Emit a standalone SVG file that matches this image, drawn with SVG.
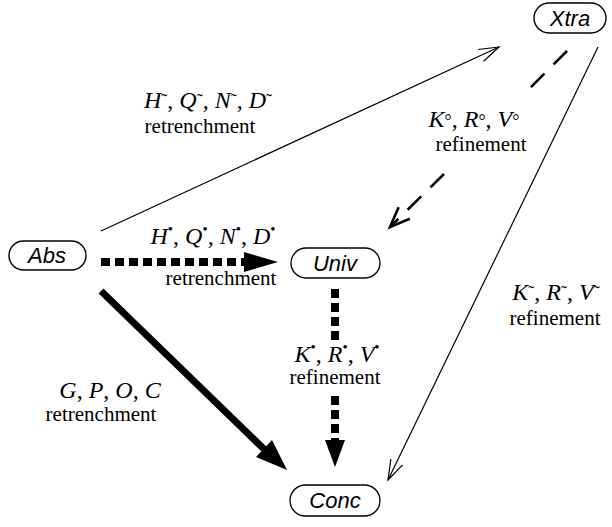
<svg xmlns="http://www.w3.org/2000/svg" width="612" height="527" viewBox="0 0 612 527">
<style>
.node rect{fill:#fff;stroke:#000;stroke-width:1.4}
.node text{font-family:"Liberation Sans",Arial,sans-serif;font-style:italic;font-size:22px;text-anchor:middle}
.lbl{font-family:"Liberation Serif","Times New Roman",serif;font-size:21px;text-anchor:middle}
.m{font-family:"Liberation Serif","Times New Roman",serif;font-size:24px;text-anchor:middle}
.it{font-style:italic}
.sup{font-size:18px}
.bul{font-size:15px}
.thin{fill:none;stroke:#000;stroke-width:1.2}
.dash{fill:none;stroke:#000;stroke-width:2.6;stroke-dasharray:19 13}
.thick{fill:none;stroke:#000;stroke-width:7}
.tdash{fill:none;stroke:#000;stroke-width:8;stroke-dasharray:9 5}
</style>
<defs>
<marker id="open" markerUnits="userSpaceOnUse" markerWidth="24" markerHeight="14" refX="20" refY="7" orient="auto" overflow="visible">
<path d="M0,0.5 L20,7 L0,13.5" fill="none" stroke="#000" stroke-width="1.2"/>
</marker>
<marker id="open2" markerUnits="userSpaceOnUse" markerWidth="24" markerHeight="16" refX="20" refY="8" orient="auto" overflow="visible">
<path d="M0,0 L20,8 L0,16" fill="none" stroke="#000" stroke-width="2.6"/>
</marker>
</defs>
<g id="connectors">
<path class="thin" d="M101,231 L499,47" marker-end="url(#open)"/>
<path class="dash" d="M567,51 L530,88"/>
<path class="dash" d="M444,174 L390,227" marker-end="url(#open2)"/>
<path class="thin" d="M598,47 L388,480" marker-end="url(#open)"/>
<path class="tdash" d="M101,262 L246,262"/>
<polygon points="244,252 278,262 244,272"/>
<path class="tdash" d="M335,289 L335,345"/>
<path class="tdash" d="M335,396 L335,442"/>
<polygon points="325,440 335,467 345,440"/>
<path class="thick" d="M101,291 L265,450"/>
<polygon points="256,457 287,470 272,440"/>
</g>
<g id="Xtra" class="node"><rect x="534" y="3" width="72" height="30" rx="15"/><text x="570" y="26">Xtra</text></g>
<g id="Abs" class="node"><rect x="9" y="241" width="77" height="29" rx="14.5"/><text x="47" y="263">Abs</text></g>
<g id="Univ" class="node"><rect x="291" y="248" width="89" height="30" rx="15"/><text x="335" y="271">Univ</text></g>
<g id="Conc" class="node"><rect x="290" y="485" width="90" height="31" rx="15.5"/><text x="335" y="508">Conc</text></g>
<g id="labels">
<text class="m" x="208" y="108"><tspan class="it">H</tspan><tspan class="sup" dy="-1">˜</tspan><tspan dy="1">, </tspan><tspan class="it">Q</tspan><tspan class="sup" dy="-1">˜</tspan><tspan dy="1">, </tspan><tspan class="it">N</tspan><tspan class="sup" dy="-1">˜</tspan><tspan dy="1">, </tspan><tspan class="it">D</tspan><tspan class="sup" dy="-1">˜</tspan></text>
<text class="lbl" x="200" y="133">retrenchment</text>
<text class="m" x="474" y="127"><tspan class="it">K</tspan><tspan class="sup">°</tspan>, <tspan class="it">R</tspan><tspan class="sup">°</tspan>, <tspan class="it">V</tspan><tspan class="sup">°</tspan></text>
<text class="lbl" x="481" y="151">refinement</text>
<text class="m" x="213" y="244"><tspan class="it">H</tspan><tspan class="bul" dy="-10">•</tspan><tspan dy="10">, </tspan><tspan class="it">Q</tspan><tspan class="bul" dy="-10">•</tspan><tspan dy="10">, </tspan><tspan class="it">N</tspan><tspan class="bul" dy="-10">•</tspan><tspan dy="10">, </tspan><tspan class="it">D</tspan><tspan class="bul" dy="-10">•</tspan></text>
<text class="lbl" x="221" y="285">retrenchment</text>
<text class="m" x="337" y="362"><tspan class="it">K</tspan><tspan class="bul" dy="-10">•</tspan><tspan dy="10">, </tspan><tspan class="it">R</tspan><tspan class="bul" dy="-10">•</tspan><tspan dy="10">, </tspan><tspan class="it">V</tspan><tspan class="bul" dy="-10">•</tspan></text>
<text class="lbl" x="335" y="384">refinement</text>
<text class="m" x="556" y="300"><tspan class="it">K</tspan><tspan class="sup" dy="-1">˜</tspan><tspan dy="1">, </tspan><tspan class="it">R</tspan><tspan class="sup" dy="-1">˜</tspan><tspan dy="1">, </tspan><tspan class="it">V</tspan><tspan class="sup" dy="-1">˜</tspan></text>
<text class="lbl" x="555" y="325">refinement</text>
<text class="m" x="110" y="398"><tspan class="it">G</tspan>, <tspan class="it">P</tspan>, <tspan class="it">O</tspan>, <tspan class="it">C</tspan></text>
<text class="lbl" x="101" y="421">retrenchment</text>
</g>
</svg>
